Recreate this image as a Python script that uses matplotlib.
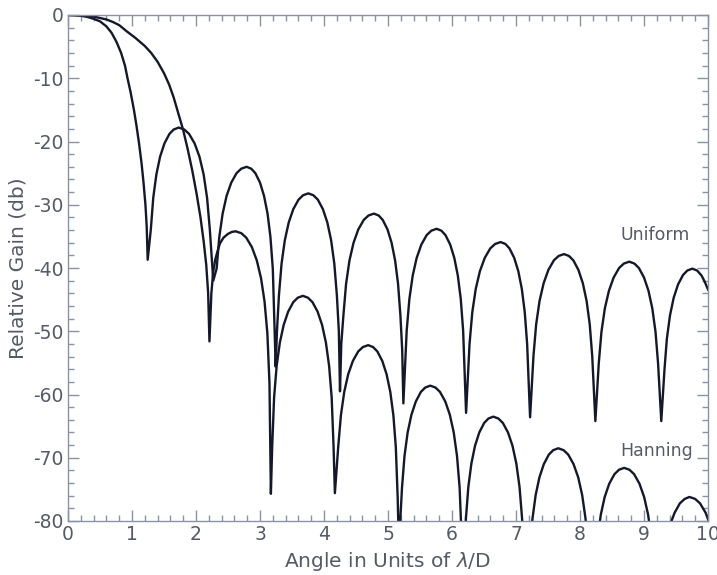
import matplotlib
matplotlib.use("Agg")
import matplotlib.pyplot as plt
from matplotlib.ticker import MultipleLocator

# ---- data (angle in lambda/D, gain in dB) ----
uniform_x = [0, 0.1, 0.2, 0.3, 0.4, 0.5, 0.6, 0.68, 0.76, 0.83, 0.89, 0.93, 0.98, 1.03, 1.07, 1.11, 1.15, 1.18, 1.21, 1.23, 1.245,
             1.294, 1.332, 1.381, 1.439, 1.507, 1.585, 1.652, 1.73, 1.816, 1.892, 1.978, 2.054, 2.119, 2.173, 2.216, 2.27,
             2.322, 2.364, 2.416, 2.478, 2.551, 2.634, 2.707, 2.79, 2.863, 2.927, 3.0, 3.063, 3.118, 3.163, 3.2, 3.245,
             3.265, 3.296, 3.337, 3.388, 3.449, 3.520, 3.602, 3.673, 3.755, 3.834, 3.904, 3.983, 4.052, 4.111, 4.161, 4.201, 4.232, 4.25,
             4.27, 4.303, 4.345, 4.398, 4.462, 4.536, 4.621, 4.695, 4.78, 4.854, 4.918, 4.992, 5.056, 5.111, 5.157, 5.194, 5.222, 5.24,
             5.292, 5.334, 5.386, 5.448, 5.521, 5.604, 5.677, 5.76, 5.834, 5.898, 5.972, 6.036, 6.091, 6.137, 6.174, 6.22,
             6.274, 6.317, 6.371, 6.436, 6.512, 6.598, 6.674, 6.76, 6.834, 6.898, 6.972, 7.036, 7.091, 7.137, 7.174, 7.22,
             7.273, 7.315, 7.368, 7.432, 7.506, 7.591, 7.665, 7.75, 7.828, 7.897, 7.975, 8.044, 8.103, 8.152, 8.191, 8.24,
             8.293, 8.335, 8.388, 8.452, 8.526, 8.611, 8.685, 8.77, 8.85, 8.92, 9.0, 9.07, 9.13, 9.18, 9.22, 9.27,
             9.319, 9.357, 9.406, 9.464, 9.532, 9.610, 9.677, 9.755, 9.83, 9.90, 9.95, 10.0]
uniform_db = [0, -0.03, -0.12, -0.3, -0.6, -1.0, -1.8, -2.8, -4.3, -6.0, -8.0, -10.0, -12.3, -15.0, -17.5, -20.3, -23.5, -26.5, -30.0, -33.5, -38.7,
              -33.9, -28.9, -25.2, -22.4, -20.3, -18.8, -18.1, -17.8, -18.1, -18.8, -20.3, -22.4, -25.2, -28.9, -33.9, -42.0,
              -40.1, -35.1, -31.4, -28.6, -26.5, -25.0, -24.3, -24.0, -24.3, -25.0, -26.5, -28.6, -31.4, -35.1, -40.1, -55.6,
              -50.0, -44.3, -39.3, -35.6, -32.8, -30.7, -29.2, -28.5, -28.2, -28.5, -29.2, -30.7, -32.8, -35.6, -39.3, -44.3, -50.0, -59.5,
              -52.0, -47.5, -42.5, -38.8, -36.0, -33.9, -32.4, -31.7, -31.4, -31.7, -32.4, -33.9, -36.0, -38.8, -42.5, -47.5, -53.0, -61.4,
              -49.9, -44.9, -41.2, -38.4, -36.3, -34.8, -34.1, -33.8, -34.1, -34.8, -36.3, -38.4, -41.2, -44.9, -49.9, -62.9,
              -52.0, -47.0, -43.3, -40.5, -38.4, -36.9, -36.2, -35.9, -36.2, -36.9, -38.4, -40.5, -43.3, -47.0, -52.0, -63.6,
              -53.9, -48.9, -45.2, -42.4, -40.3, -38.8, -38.1, -37.8, -38.1, -38.8, -40.3, -42.4, -45.2, -48.9, -53.9, -64.2,
              -55.1, -50.1, -46.4, -43.6, -41.5, -40.0, -39.3, -39.0, -39.3, -40.0, -41.5, -43.6, -46.4, -50.1, -55.1, -64.2,
              -56.2, -51.2, -47.5, -44.7, -42.6, -41.1, -40.4, -40.1, -40.4, -41.2, -42.2, -43.4]

hanning_x = [0, 0.2, 0.4, 0.6, 0.7, 0.8, 0.92, 1.05, 1.2, 1.3, 1.4, 1.5, 1.58, 1.65, 1.72, 1.80, 1.87, 1.94, 2.01, 2.07, 2.12, 2.16, 2.19, 2.21,
             2.24, 2.27, 2.30, 2.34, 2.375, 2.43, 2.50, 2.56, 2.62, 2.708, 2.785, 2.873, 2.95, 3.016, 3.071, 3.115, 3.148, 3.17,
             3.19, 3.22, 3.26, 3.31, 3.37, 3.44, 3.52, 3.59, 3.67, 3.75, 3.82, 3.90, 3.97, 4.03, 4.08, 4.12, 4.15, 4.17,
             4.222, 4.264, 4.316, 4.378, 4.451, 4.534, 4.607, 4.69, 4.767, 4.834, 4.911, 4.978, 5.036, 5.084, 5.122, 5.151, 5.17,
             5.219, 5.258, 5.307, 5.366, 5.435, 5.513, 5.582, 5.66, 5.742, 5.813, 5.895, 5.966, 6.027, 6.078, 6.119, 6.15, 6.17,
             6.2175, 6.2555, 6.303, 6.36, 6.4265, 6.5025, 6.569, 6.645, 6.725, 6.795, 6.875, 6.945, 7.005, 7.055, 7.095, 7.145,
             7.258, 7.307, 7.366, 7.435, 7.513, 7.582, 7.66, 7.743, 7.816, 7.899, 7.972, 8.034, 8.086, 8.18,
             8.274, 8.325, 8.386, 8.457, 8.538, 8.609, 8.69, 8.773, 8.846, 8.929, 9.002, 9.064, 9.116, 9.2,
             9.336, 9.40, 9.478, 9.561, 9.637, 9.71, 9.798, 9.875, 9.963, 10.04]
hanning_db = [0, -0.05, -0.25, -0.7, -1.1, -1.6, -2.6, -3.6, -4.9, -6.0, -7.4, -9.2, -11.0, -13.0, -15.4, -18.2, -21.2, -24.5, -28.3, -32.0, -35.8, -39.5, -44.0, -51.6,
              -44.0, -40.5, -38.7, -37.2, -36.1, -35.2, -34.6, -34.3, -34.2, -34.5, -35.2, -36.7, -38.8, -41.6, -45.3, -50.3, -58.2, -75.7,
              -68.4, -60.5, -55.5, -51.8, -49.0, -46.9, -45.4, -44.7, -44.4, -44.7, -45.4, -46.9, -49.0, -51.8, -55.5, -60.5, -68.4, -75.6,
              -68.3, -63.3, -59.6, -56.8, -54.7, -53.2, -52.5, -52.2, -52.5, -53.2, -54.7, -56.8, -59.6, -63.3, -68.3, -76.2, -84.0,
              -74.7, -69.7, -66.0, -63.2, -61.1, -59.6, -58.9, -58.6, -58.9, -59.6, -61.1, -63.2, -66.0, -69.7, -74.7, -82.6, -90.0,
              -79.6, -74.6, -70.9, -68.1, -66.0, -64.5, -63.8, -63.5, -63.8, -64.5, -66.0, -68.1, -70.9, -74.6, -79.6, -90.0,
              -79.6, -75.9, -73.1, -71.0, -69.5, -68.8, -68.5, -68.8, -69.5, -71.0, -73.1, -75.9, -79.6, -92.0,
              -82.7, -79.0, -76.2, -74.1, -72.6, -71.9, -71.6, -71.9, -72.6, -74.1, -76.2, -79.0, -82.7, -92.0,
              -83.6, -80.8, -78.7, -77.2, -76.5, -76.2, -76.5, -77.2, -78.7, -80.8]

x_ticks = [0, 1, 2, 3, 4, 5, 6, 7, 8, 9, 10]
y_ticks = [0, -10, -20, -30, -40, -50, -60, -70, -80]
series_labels = ["Uniform", "Hanning"]

text_color = "#555a66"
axis_color = "#8a93a6"
line_color = "#15182a"

fig = plt.figure(figsize=(7.17, 5.75), dpi=100)
ax = fig.add_axes([68 / 717, 1 - 521 / 575, (708 - 68) / 717, (521 - 15) / 575])

ax.plot(uniform_x, uniform_db, color=line_color, lw=1.7, solid_joinstyle="round")
ax.plot(hanning_x, hanning_db, color=line_color, lw=1.7, solid_joinstyle="round")

ax.set_xlim(0, 10)
ax.set_ylim(-80, 0)
ax.set_xticks(x_ticks)
ax.set_yticks(y_ticks)
ax.set_xticklabels([str(t) for t in x_ticks])
ax.set_yticklabels([str(t) for t in y_ticks])
ax.xaxis.set_minor_locator(MultipleLocator(0.2))
ax.yaxis.set_minor_locator(MultipleLocator(2))
ax.tick_params(which="both", direction="in", top=True, right=True, color=axis_color, width=1.0)
ax.tick_params(which="major", length=8, labelsize=13.5, labelcolor=text_color, pad=3)
ax.tick_params(which="minor", length=4)
for sp in ax.spines.values():
    sp.set_color(axis_color)
    sp.set_linewidth(1.0)

ax.set_xlabel("Angle in Units of $\\lambda$/D", fontsize=14.5, color=text_color, labelpad=4)
ax.set_ylabel("Relative Gain (db)", fontsize=14.5, color=text_color, labelpad=4)

ax.text(9.17, -34.8, series_labels[0], fontsize=12.5, color=text_color, ha="center", va="center")
ax.text(9.2, -69.0, series_labels[1], fontsize=12.5, color=text_color, ha="center", va="center")

fig.savefig("out.png", dpi=100)
